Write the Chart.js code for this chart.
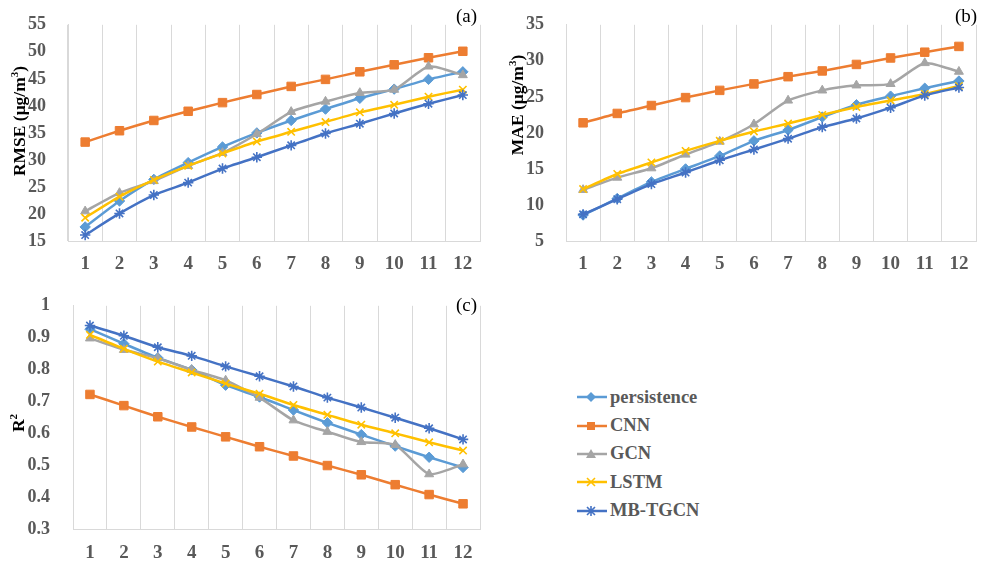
<!DOCTYPE html>
<html>
<head>
<meta charset="utf-8">
<script src="https://cdn.jsdelivr.net/npm/chart.js@4/dist/chart.umd.min.js"></script>
<style>
  body{margin:0;background:#fff;width:983px;height:566px;overflow:hidden;position:relative;font-family:'Liberation Serif','Times New Roman',serif;}
  .panel{position:absolute;}
  .tag{position:absolute;font-size:19px;color:#000;}
  .ytitle{position:absolute;transform:translate(-50%,-50%) rotate(-90deg);white-space:nowrap;font-weight:bold;font-size:17.5px;color:#000;}
  .ytitle sup{font-size:11px;line-height:0;}
  #legend{position:absolute;left:576px;top:383px;}
  #legend div{height:28.4px;display:flex;align-items:center;font-weight:bold;font-size:18.5px;color:#595959;}
  #legend svg{margin-right:2px;}
</style>
</head>
<body>
<canvas id="chartA" class="panel" style="left:0;top:0" width="490" height="280"></canvas>
<canvas id="chartB" class="panel" style="left:490px;top:0" width="493" height="280"></canvas>
<canvas id="chartC" class="panel" style="left:0;top:280px" width="490" height="286"></canvas>
<div class="ytitle" style="left:19px;top:121px">RMSE (μg/m<sup>3</sup>)</div>
<div class="ytitle" style="left:517px;top:105px">MAE (μg/m<sup>3</sup>)</div>
<div class="ytitle" style="left:18px;top:423px">R<sup>2</sup></div>
<div class="tag" style="left:456px;top:5px">(a)</div>
<div class="tag" style="left:955px;top:5px">(b)</div>
<div class="tag" style="left:456px;top:294px">(c)</div>
<div id="legend"></div>
<script>
const horizons = ['1','2','3','4','5','6','7','8','9','10','11','12'];
const seriesNames = ['persistence','CNN','GCN','LSTM','MB-TGCN'];
const seriesColors = ['#5B9BD5','#ED7D31','#A5A5A5','#FFC000','#4472C4'];
const seriesMarkers = ['rectRot','rect','triangle','crossRot','star'];

// RMSE (a)
const rmsePersistence = [17.6,22.4,26.4,29.5,32.4,35.0,37.3,39.4,41.4,43.1,44.9,46.3];
const rmseCNN = [33.3,35.4,37.3,39.0,40.6,42.1,43.6,44.9,46.3,47.6,48.9,50.1];
const rmseGCN = [20.5,23.9,26.1,28.9,31.3,34.8,38.9,40.8,42.4,43.0,47.3,45.7];
const rmseLSTM = [19.3,23.2,26.3,28.9,31.2,33.4,35.2,37.0,38.8,40.2,41.7,43.0];
const rmseMBTGCN = [16.1,20.1,23.5,25.8,28.4,30.5,32.7,34.9,36.7,38.6,40.4,42.0];

// MAE (b)
const maePersistence = [8.6,10.9,13.2,15.0,16.8,18.9,20.4,22.2,23.9,25.1,26.2,27.2];
const maeCNN = [21.4,22.7,23.8,24.9,25.9,26.8,27.8,28.6,29.5,30.4,31.2,32.0];
const maeGCN = [12.1,13.8,15.1,17.0,18.8,21.2,24.5,25.9,26.6,26.8,29.7,28.5];
const maeLSTM = [12.2,14.3,15.9,17.5,18.9,20.2,21.3,22.5,23.6,24.5,25.4,26.5];
const maeMBTGCN = [8.7,10.8,12.9,14.5,16.2,17.7,19.2,20.8,22.0,23.5,25.2,26.3];

// R2 (c)
const r2Persistence = [0.927,0.881,0.837,0.799,0.751,0.714,0.673,0.633,0.596,0.560,0.525,0.493];
const r2CNN = [0.722,0.687,0.652,0.620,0.589,0.558,0.529,0.499,0.470,0.439,0.408,0.379];
const r2GCN = [0.898,0.862,0.836,0.799,0.766,0.712,0.641,0.605,0.573,0.564,0.472,0.503];
const r2LSTM = [0.909,0.865,0.825,0.791,0.756,0.724,0.689,0.658,0.627,0.600,0.572,0.546];
const r2MBTGCN = [0.938,0.906,0.870,0.843,0.810,0.779,0.747,0.712,0.681,0.649,0.616,0.581];

Chart.defaults.font.family = "'Liberation Serif','Times New Roman',serif";
Chart.defaults.animation = false;

function makeDatasets(values){
  return values.map((v,i)=>({
    label: seriesNames[i], data: v,
    borderColor: seriesColors[i], backgroundColor: seriesColors[i],
    borderWidth: 2.5, tension: 0.2,
    pointStyle: seriesMarkers[i],
    pointRadius: i===1 ? 6 : 5.2,
    pointBackgroundColor: seriesColors[i], pointBorderColor: seriesColors[i],
    pointBorderWidth: (i===3||i===4) ? 1.6 : 1,
    order: 4-i
  }));
}

function makeChart(id, values, yOpt, box){
  new Chart(document.getElementById(id), {
    type: 'line',
    data: { labels: horizons, datasets: makeDatasets(values) },
    options: {
      responsive: false,
      layout: { padding: { top: box.top, right: box.right, left: 0, bottom: 0 } },
      plugins: { legend: { display: false }, tooltip: { enabled: false } },
      scales: {
        x: {
          offset: true,
          grid: { offset: true, color: '#D9D9D9', drawTicks: false },
          border: { color: '#D9D9D9' },
          ticks: { color: '#595959', padding: box.xPad, font: { size: 19, weight: 'bold' } },
          afterFit: s => { s.height = box.xh; }
        },
        y: {
          min: yOpt.min, max: yOpt.max,
          grid: { display: false },
          border: { display: true, color: '#D9D9D9' },
          ticks: { stepSize: yOpt.step, color: '#595959', padding: box.yPad, font: { size: 18, weight: 'bold' },
                   callback: v => String(+v.toFixed(1)) },
          afterFit: s => { s.width = box.yw; }
        }
      }
    }
  });
}

makeChart('chartA', [rmsePersistence,rmseCNN,rmseGCN,rmseLSTM,rmseMBTGCN],
  { min: 15, max: 55, step: 5 },
  { top: 17, right: 10, xh: 39, yw: 68, xPad: 12, yPad: 14 });
makeChart('chartB', [maePersistence,maeCNN,maeGCN,maeLSTM,maeMBTGCN],
  { min: 5, max: 35, step: 5 },
  { top: 17, right: 5, xh: 39, yw: 76, xPad: 12, yPad: 14 });
makeChart('chartC', [r2Persistence,r2CNN,r2GCN,r2LSTM,r2MBTGCN],
  { min: 0.3, max: 1, step: 0.1 },
  { top: 25, right: 10, xh: 37, yw: 73, xPad: 13, yPad: 15 });

// legend: line with marker, like the spreadsheet one
const legend = document.getElementById('legend');
seriesNames.forEach((name,i)=>{
  const c = seriesColors[i];
  let mark = '';
  if(i===0) mark = `<polygon points="15,3 20,8 15,13 10,8" fill="${c}"/>`;
  if(i===1) mark = `<rect x="11" y="4" width="8" height="8" fill="${c}"/>`;
  if(i===2) mark = `<polygon points="15,3 20,12 10,12" fill="${c}"/>`;
  if(i===3) mark = `<path d="M11,4 L19,12 M19,4 L11,12" stroke="${c}" stroke-width="1.6"/>`;
  if(i===4) mark = `<path d="M11,4 L19,12 M19,4 L11,12 M15,3 L15,13" stroke="${c}" stroke-width="1.6"/>`;
  const row = document.createElement('div');
  row.innerHTML = `<svg width="32" height="16"><line x1="1" y1="8" x2="31" y2="8" stroke="${c}" stroke-width="2.5"/>${mark}</svg><span>${name}</span>`;
  legend.appendChild(row);
});
</script>
</body>
</html>
